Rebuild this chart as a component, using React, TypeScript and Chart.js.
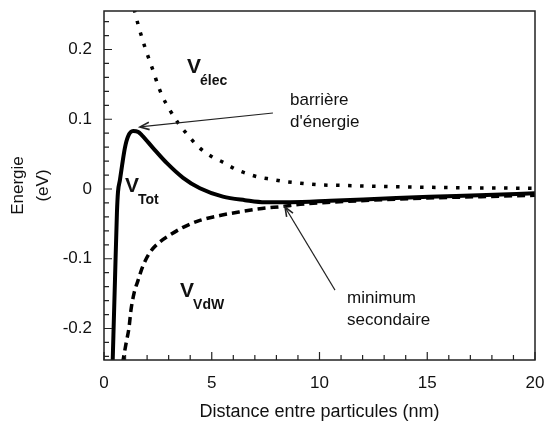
import React, { useEffect, useRef } from "react";
import { Chart, registerables } from "chart.js";

Chart.register(...registerables);

// ---- Data ----
const xTickValues = [0, 5, 10, 15, 20];
const yTickValues = [-0.2, -0.1, 0, 0.1, 0.2];

const elecX = [1.4, 1.58, 1.76, 1.9, 2.09, 2.32, 2.51, 2.74, 3.02, 3.43, 3.9, 4.36, 4.97, 5.48, 6.13, 6.64, 7.19, 7.75, 8.31, 8.91, 10.0, 11.2, 12.3, 16.0, 20.0];
const elecY = [0.258, 0.236, 0.217, 0.203, 0.186, 0.166, 0.148, 0.131, 0.115, 0.095, 0.077, 0.061, 0.047, 0.039, 0.028, 0.022, 0.017, 0.014, 0.011, 0.009, 0.006, 0.005, 0.004, 0.002, 0.001];

const vdwX = [0.86, 1.02, 1.16, 1.25, 1.39, 1.58, 1.81, 2.13, 2.51, 3.06, 3.67, 4.45, 5.38, 6.26, 7.33, 8.31, 9.1, 10.5, 12.5, 15.0, 17.5, 20.0];
const vdwY = [-0.25, -0.222, -0.199, -0.174, -0.15, -0.131, -0.11, -0.091, -0.078, -0.066, -0.055, -0.045, -0.038, -0.033, -0.028, -0.025, -0.022, -0.019, -0.016, -0.013, -0.011, -0.009];

const totX = [0.4, 0.51, 0.6, 0.65, 0.74, 0.84, 0.97, 1.11, 1.35, 1.58, 1.76, 2.27, 2.92, 3.67, 4.45, 5.52, 6.54, 7.47, 8.63, 10.5, 12.8, 15.1, 17.4, 20.0];
const totY = [-0.25, -0.13, -0.034, -0.004, 0.013, 0.034, 0.059, 0.075, 0.083, 0.082, 0.077, 0.059, 0.037, 0.016, 0.001, -0.011, -0.016, -0.019, -0.019, -0.017, -0.014, -0.011, -0.009, -0.006];

// ---- Annotations (data coordinates) ----
const curveLabels = [
  { main: "V", sub: "élec", x: 3.85, y: 0.166 },
  { main: "V", sub: "Tot", x: 0.97, y: -0.004 },
  { main: "V", sub: "VdW", x: 3.53, y: -0.155 },
];
const noteTexts = [
  { text: "barrière", x: 8.63, y: 0.1204 },
  { text: "d'énergie", x: 8.63, y: 0.0893 },
  { text: "minimum", x: 11.28, y: -0.1634 },
  { text: "secondaire", x: 11.28, y: -0.195 },
];
const arrows = [
  { fromX: 7.84, fromY: 0.109, toX: 1.67, toY: 0.089 },
  { fromX: 10.72, fromY: -0.145, toX: 8.4, toY: -0.026 },
];

const FONT = '"Liberation Sans", Arial, Helvetica, sans-serif';

const decorPlugin = {
  id: "decor",
  afterDatasetsDraw(chart: any) {
    const { ctx, chartArea: a, scales } = chart;
    const xs = scales.x;
    const ys = scales.y;
    ctx.save();
    // frame
    ctx.strokeStyle = "#222";
    ctx.lineWidth = 1.5;
    ctx.strokeRect(a.left, a.top, a.right - a.left, a.bottom - a.top);

    // inward ticks
    ctx.lineWidth = 1.2;
    ctx.beginPath();
    for (let k = 0; k <= 20; k++) {
      const px = xs.getPixelForValue(k);
      const len = k % 5 === 0 ? 8 : 5;
      ctx.moveTo(px, a.bottom);
      ctx.lineTo(px, a.bottom - len);
    }
    for (let k = -12; k <= 12; k++) {
      const py = ys.getPixelForValue(k * 0.02);
      const len = k % 5 === 0 ? 8 : 5;
      ctx.moveTo(a.left, py);
      ctx.lineTo(a.left + len, py);
    }
    ctx.stroke();

    // arrows
    ctx.strokeStyle = "#222";
    for (const ar of arrows) {
      const x1 = xs.getPixelForValue(ar.fromX);
      const y1 = ys.getPixelForValue(ar.fromY);
      const x2 = xs.getPixelForValue(ar.toX);
      const y2 = ys.getPixelForValue(ar.toY);
      ctx.lineWidth = 1.1;
      ctx.beginPath();
      ctx.moveTo(x1, y1);
      ctx.lineTo(x2, y2);
      ctx.stroke();
      const ang = Math.atan2(y1 - y2, x1 - x2);
      const hl = 10;
      const spread = 0.38;
      ctx.lineWidth = 1.6;
      ctx.beginPath();
      ctx.moveTo(x2 + hl * Math.cos(ang + spread), y2 + hl * Math.sin(ang + spread));
      ctx.lineTo(x2, y2);
      ctx.lineTo(x2 + hl * Math.cos(ang - spread), y2 + hl * Math.sin(ang - spread));
      ctx.stroke();
    }

    // texts
    ctx.fillStyle = "#111";
    ctx.textAlign = "left";
    ctx.textBaseline = "alphabetic";
    ctx.font = `17px ${FONT}`;
    for (const t of noteTexts) {
      ctx.fillText(t.text, xs.getPixelForValue(t.x), ys.getPixelForValue(t.y));
    }
    for (const l of curveLabels) {
      const px = xs.getPixelForValue(l.x);
      const py = ys.getPixelForValue(l.y);
      ctx.font = `bold 21px ${FONT}`;
      ctx.fillText(l.main, px, py);
      const w = ctx.measureText(l.main).width;
      ctx.font = `bold 14px ${FONT}`;
      ctx.fillText(l.sub, px + w - 1, py + 12);
    }
    ctx.restore();
  },
};

export default function App() {
  const ref = useRef<HTMLCanvasElement | null>(null);

  useEffect(() => {
    if (!ref.current) return;
    const mk = (xa: number[], ya: number[]) => xa.map((x, i) => ({ x, y: ya[i] }));
    const chart = new Chart(ref.current, {
      type: "line",
      data: {
        datasets: [
          {
            label: "V élec",
            data: mk(elecX, elecY),
            borderColor: "#000",
            borderWidth: 3.5,
            borderDash: [3.5, 8.5],
            borderCapStyle: "butt",
            pointRadius: 0,
            cubicInterpolationMode: "monotone",
            fill: false,
          },
          {
            label: "V VdW",
            data: mk(vdwX, vdwY),
            borderColor: "#000",
            borderWidth: 3.5,
            borderDash: [8, 5],
            borderCapStyle: "butt",
            pointRadius: 0,
            cubicInterpolationMode: "monotone",
            fill: false,
          },
          {
            label: "V Tot",
            data: mk(totX, totY),
            borderColor: "#000",
            borderWidth: 4,
            pointRadius: 0,
            cubicInterpolationMode: "monotone",
            fill: false,
          },
        ],
      },
      options: {
        responsive: false,
        animation: false,
        layout: { padding: { top: 11, right: 10, left: 0, bottom: 0 } },
        plugins: { legend: { display: false }, tooltip: { enabled: false } },
        scales: {
          x: {
            type: "linear",
            min: 0,
            max: 20,
            grid: { display: false, drawTicks: false, tickLength: 0 },
            border: { display: false },
            ticks: { padding: 13, color: "#111", font: { size: 17, family: FONT } },
            afterBuildTicks: (s: any) => {
              s.ticks = xTickValues.map((v) => ({ value: v }));
            },
            afterFit: (s: any) => {
              s.height = 63;
              s.paddingLeft = 0;
              s.paddingRight = 0;
            },
            title: {
              display: true,
              text: "Distance entre particules (nm)",
              color: "#111",
              font: { size: 18, family: FONT, lineHeight: 1.2 },
              padding: { top: 0, bottom: 0 },
            },
          },
          y: {
            type: "linear",
            min: -0.2452,
            max: 0.2552,
            grid: { display: false, drawTicks: false, tickLength: 0 },
            border: { display: false },
            ticks: {
              padding: 12,
              color: "#111",
              font: { size: 17, family: FONT },
              callback: (v: any) => {
                const n = Math.round(Number(v) * 10) / 10;
                return n === 0 ? "0" : String(n);
              },
            },
            afterBuildTicks: (s: any) => {
              s.ticks = yTickValues.map((v) => ({ value: v }));
            },
            afterFit: (s: any) => {
              s.width = 104;
              s.paddingTop = 0;
              s.paddingBottom = 0;
            },
            title: {
              display: true,
              text: ["Energie", "(eV)"],
              color: "#111",
              font: { size: 17, family: FONT, lineHeight: 25 / 17 },
              padding: { top: 5.5, bottom: 0 },
            },
          },
        },
      },
      plugins: [decorPlugin],
    } as any);
    return () => chart.destroy();
  }, []);

  return (
    <div style={{ position: "fixed", left: 0, top: 0, width: 545, height: 423, background: "#fff" }}>
      <canvas ref={ref} width={545} height={423} style={{ display: "block" }} />
    </div>
  );
}
